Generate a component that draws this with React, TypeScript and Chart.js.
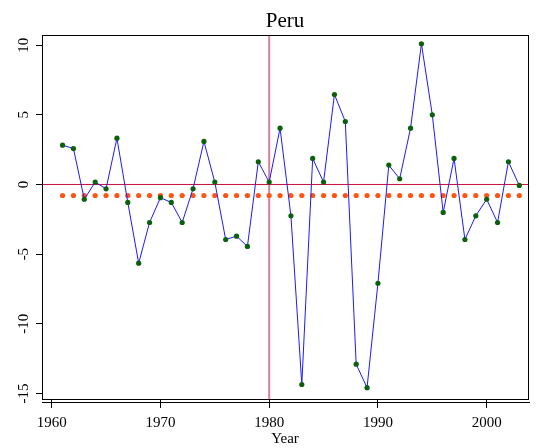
import React, { useEffect, useRef } from 'react';
import { Chart, registerables } from 'chart.js';

Chart.register(...registerables);

const titleText = 'Peru';
const xTitle = 'Year';
const years = [
  1961, 1962, 1963, 1964, 1965, 1966, 1967, 1968, 1969, 1970,
  1971, 1972, 1973, 1974, 1975, 1976, 1977, 1978, 1979, 1980,
  1981, 1982, 1983, 1984, 1985, 1986, 1987, 1988, 1989, 1990,
  1991, 1992, 1993, 1994, 1995, 1996, 1997, 1998, 1999, 2000,
  2001, 2002, 2003,
];
const values = [
  2.82, 2.58, -1.06, 0.17, -0.31, 3.32, -1.29, -5.65, -2.73, -0.95,
  -1.29, -2.73, -0.31, 3.09, 0.17, -3.95, -3.71, -4.45, 1.63, 0.17,
  4.04, -2.25, -14.36, 1.87, 0.17, 6.46, 4.52, -12.9, -14.59, -7.09,
  1.39, 0.41, 4.04, 10.1, 5.0, -2.01, 1.87, -3.95, -2.25, -1.06,
  -2.73, 1.63, -0.07,
];
const meanLevel = -0.79;
const refYear = 1980;
const refValue = 0;
const xTicks = [1960, 1970, 1980, 1990, 2000];
const yTicks = [-15, -10, -5, 0, 5, 10];
const xMin = 1959.11;
const xMax = 2003.8;
const yMin = -15.4;
const yMax = 10.73;

const FONT = '"Liberation Serif", "Times New Roman", serif';

const framePlugin = {
  id: 'stataFrame',
  afterDraw(chart: any) {
    const { ctx, chartArea: a, scales } = chart;
    ctx.save();
    ctx.strokeStyle = '#000';
    ctx.lineWidth = 1;
    ctx.strokeRect(Math.round(a.left) + 0.5, Math.round(a.top) + 0.5, Math.round(a.right - a.left), Math.round(a.bottom - a.top));
    ctx.beginPath();
    ctx.moveTo(a.left, Math.round(a.bottom) + 3.5);
    ctx.lineTo(a.right + 2, Math.round(a.bottom) + 3.5);
    ctx.stroke();
    ctx.fillStyle = '#000';
    ctx.font = `15px ${FONT}`;
    ctx.textAlign = 'center';
    ctx.textBaseline = 'middle';
    for (const v of yTicks) {
      const y = scales.y.getPixelForValue(v);
      ctx.save();
      ctx.translate(24, y);
      ctx.rotate(-Math.PI / 2);
      ctx.fillText(String(v), 0, 0);
      ctx.restore();
    }
    ctx.font = `21px ${FONT}`;
    ctx.textBaseline = 'alphabetic';
    ctx.fillText(titleText, (a.left + a.right) / 2, 26.5);
    ctx.restore();
  },
};

export default function App() {
  const ref = useRef<HTMLCanvasElement | null>(null);
  useEffect(() => {
    if (!ref.current) return;
    const chart = new Chart(ref.current, {
      type: 'line',
      data: {
        datasets: [
          {
            label: 'series',
            data: years.map((x, i) => ({ x, y: values[i] })),
            borderColor: '#1a1aff',
            borderWidth: 1,
            pointRadius: 2.6,
            pointBackgroundColor: '#0b600b',
            pointBorderWidth: 0,
            tension: 0,
          },
          {
            label: 'mean',
            data: years.map((x) => ({ x, y: meanLevel })),
            showLine: false,
            pointRadius: 2.6,
            pointBackgroundColor: '#ff5514',
            pointBorderWidth: 0,
          },
          {
            label: 'zero',
            data: [{ x: xMin, y: refValue }, { x: xMax, y: refValue }],
            borderColor: '#c8103c',
            borderWidth: 1,
            pointRadius: 0,
          },
          {
            label: 'ref',
            data: [{ x: refYear, y: yMin }, { x: refYear, y: yMax }],
            borderColor: '#d8809c',
            borderWidth: 2,
            pointRadius: 0,
          },
        ],
      },
      options: {
        responsive: false,
        animation: false,
        events: [],
        layout: { padding: { top: 35, right: 20, left: 0, bottom: 0 } },
        plugins: { legend: { display: false }, tooltip: { enabled: false }, title: { display: false } },
        scales: {
          x: {
            type: 'linear',
            position: 'bottom',
            min: xMin,
            max: xMax,
            afterBuildTicks: (s: any) => { s.ticks = xTicks.map((value) => ({ value })); },
            afterFit: (s: any) => { s.height = 49; },
            ticks: {
              color: '#000',
              font: { family: FONT, size: 15 },
              padding: 6,
              maxRotation: 0,
              autoSkip: false,
              callback: (v: any) => String(v),
            },
            grid: { drawOnChartArea: false, tickLength: 9, color: '#000' },
            border: { display: true, color: '#000' },
            title: { display: true, text: xTitle, color: '#000', font: { family: FONT, size: 15 }, padding: { top: 0, bottom: 0 } },
          },
          y: {
            type: 'linear',
            position: 'left',
            min: yMin,
            max: yMax,
            afterBuildTicks: (s: any) => { s.ticks = yTicks.map((value) => ({ value })); },
            afterFit: (s: any) => { s.width = 42; },
            ticks: { display: false },
            grid: { drawOnChartArea: false, tickLength: 6, color: '#000' },
            border: { display: true, color: '#000' },
          },
        },
      },
      plugins: [framePlugin],
    });
    return () => chart.destroy();
  }, []);
  return (
    <div style={{ position: 'absolute', left: 0, top: 0, width: 548, height: 448, background: '#fff' }}>
      <canvas ref={ref} width={548} height={448} style={{ display: 'block' }} />
    </div>
  );
}
